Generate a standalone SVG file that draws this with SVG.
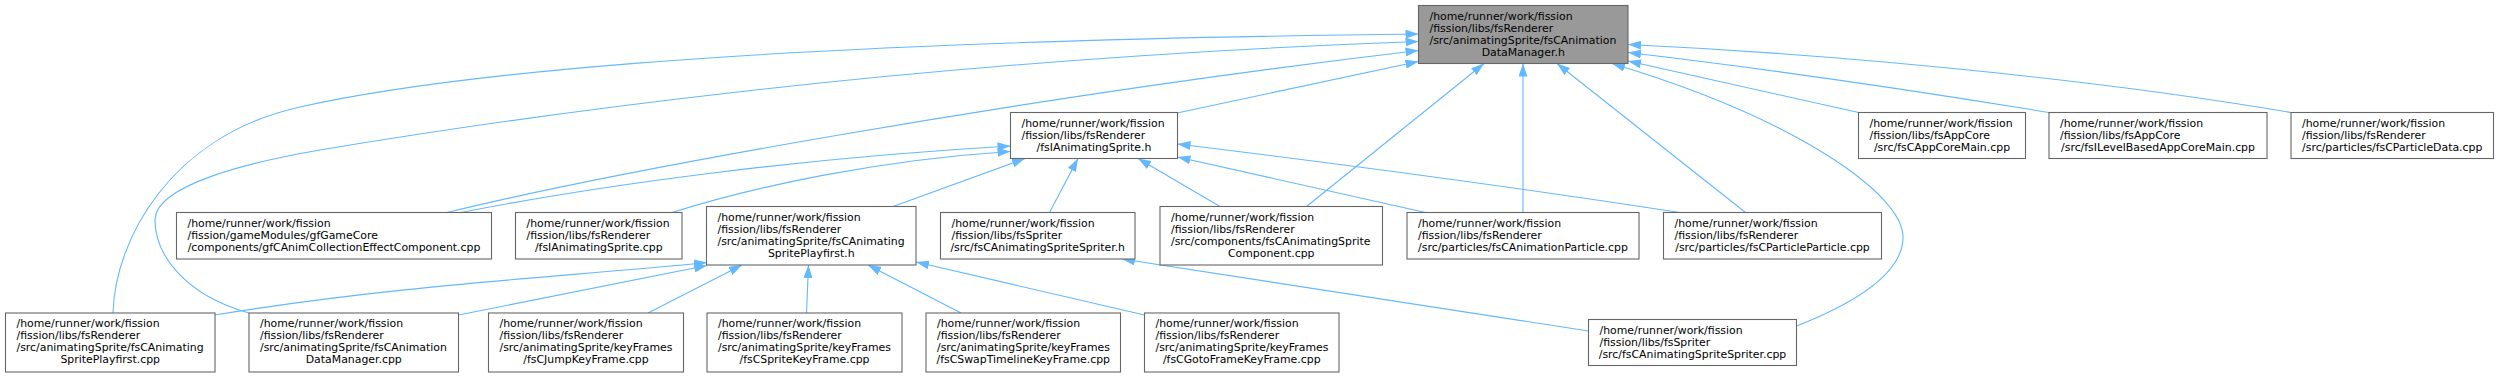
<svg xmlns="http://www.w3.org/2000/svg" width="2499" height="377" viewBox="0 0 2499 377">
<style>
.n rect{fill:#ffffff;stroke:#666666;stroke-width:1.1}
.n.root rect{fill:#999999}
.n text{font-family:"DejaVu Sans","Liberation Sans",sans-serif;font-size:10.9px;fill:#000000}
.n text.c{text-anchor:middle}
.e path{fill:none;stroke:#63b8ff;stroke-width:1.1;marker-end:url(#ah)}
</style>
<defs>
<marker id="ah" viewBox="0 0 13 9" refX="13" refY="4.5" markerWidth="13" markerHeight="9" markerUnits="userSpaceOnUse" orient="auto">
<path d="M0,0 L13,4.5 L0,9 Z" fill="#63b8ff"/>
</marker>
</defs>
<rect x="0" y="0" width="2499" height="377" fill="#ffffff"/>
<g id="edges" class="e">
<path d="M1177,113 L1418.5,61.5"/>
<path d="M447,212.5 C600,175 1000,100 1418.5,50.5"/>
<path d="M113,313 C115,240 170,136 300,107 C420,80 700,42 1418.5,34"/>
<path d="M249,313 C185,295 155,255 155,220 C155,185 250,162 320,150 C500,120 900,60 1418.5,41.5"/>
<path d="M461,212.5 C600,185 800,158 1010.5,146"/>
<path d="M672,212.5 C760,185 880,160 1010.5,151.5"/>
<path d="M893,206.5 L1025,158.5"/>
<path d="M1049.5,212.5 L1078,158.5"/>
<path d="M1220,206.5 L1138,158.5"/>
<path d="M1425.5,212.5 L1177.5,157"/>
<path d="M1680,212.5 C1500,185 1350,165 1177.5,144"/>
<path d="M1306.5,206.5 L1484,63.5"/>
<path d="M1523,212.5 L1523,63.5"/>
<path d="M1745.5,212.5 L1557,63.5"/>
<path d="M1796.5,326 C1850,305 1903,275 1903,237 C1903,195 1800,120 1612,63.5"/>
<path d="M1858.5,112.5 L1628,61"/>
<path d="M2049,112.5 C1900,88 1760,68 1628,52.5"/>
<path d="M2291,112.5 C2100,80 1850,55 1628,44.5"/>
<path d="M1588.5,331 L1122,259"/>
<path d="M214.5,315 C400,285 550,278 707,262.5"/>
<path d="M458.5,315 L707,265.5"/>
<path d="M648,313 L742,265"/>
<path d="M806.5,313 L808.5,265"/>
<path d="M961,313 L868,265"/>
<path d="M1144.5,315 L916,262"/>
</g>
<g id="n0" class="n root"><rect x="1418.5" y="5.5" width="209.5" height="58"/>
<text x="1429.5" y="19.8">/home/runner/work/fission</text><text x="1429.5" y="31.8">/fission/libs/fsRenderer</text><text x="1429.5" y="43.8">/src/animatingSprite/fsCAnimation</text><text class="c" x="1523.25" y="55.8">DataManager.h</text></g>
<g id="n1" class="n"><rect x="1010.5" y="112.5" width="167" height="46"/>
<text x="1021.5" y="127">/home/runner/work/fission</text><text x="1021.5" y="139">/fission/libs/fsRenderer</text><text class="c" x="1094" y="151">/fsIAnimatingSprite.h</text></g>
<g id="n2" class="n"><rect x="1858.5" y="112.5" width="167" height="46"/>
<text x="1869.5" y="127">/home/runner/work/fission</text><text x="1869.5" y="139">/fission/libs/fsAppCore</text><text class="c" x="1942" y="151">/src/fsCAppCoreMain.cpp</text></g>
<g id="n3" class="n"><rect x="2049" y="112.5" width="218" height="46"/>
<text x="2060" y="127">/home/runner/work/fission</text><text x="2060" y="139">/fission/libs/fsAppCore</text><text class="c" x="2158" y="151">/src/fsILevelBasedAppCoreMain.cpp</text></g>
<g id="n4" class="n"><rect x="2291" y="112.5" width="202.5" height="46"/>
<text x="2302" y="127">/home/runner/work/fission</text><text x="2302" y="139">/fission/libs/fsRenderer</text><text class="c" x="2392.25" y="151">/src/particles/fsCParticleData.cpp</text></g>
<g id="n5" class="n"><rect x="176.5" y="212.5" width="315" height="46.5"/>
<text x="187.5" y="227">/home/runner/work/fission</text><text x="187.5" y="239">/fission/gameModules/gfGameCore</text><text class="c" x="334" y="251">/components/gfCAnimCollectionEffectComponent.cpp</text></g>
<g id="n6" class="n"><rect x="515.5" y="212.5" width="166.5" height="46.5"/>
<text x="526.5" y="227">/home/runner/work/fission</text><text x="526.5" y="239">/fission/libs/fsRenderer</text><text class="c" x="598.75" y="251">/fsIAnimatingSprite.cpp</text></g>
<g id="n7" class="n"><rect x="706.5" y="206.5" width="209.5" height="58.5"/>
<text x="717.5" y="220.8">/home/runner/work/fission</text><text x="717.5" y="232.8">/fission/libs/fsRenderer</text><text x="717.5" y="244.8">/src/animatingSprite/fsCAnimating</text><text class="c" x="811.25" y="256.8">SpritePlayfirst.h</text></g>
<g id="n8" class="n"><rect x="940.5" y="212.5" width="194.5" height="46.5"/>
<text x="951.5" y="227">/home/runner/work/fission</text><text x="951.5" y="239">/fission/libs/fsSpriter</text><text class="c" x="1037.75" y="251">/src/fsCAnimatingSpriteSpriter.h</text></g>
<g id="n9" class="n"><rect x="1160" y="206.5" width="222.5" height="58.5"/>
<text x="1171" y="220.8">/home/runner/work/fission</text><text x="1171" y="232.8">/fission/libs/fsRenderer</text><text x="1171" y="244.8">/src/components/fsCAnimatingSprite</text><text class="c" x="1271.25" y="256.8">Component.cpp</text></g>
<g id="n10" class="n"><rect x="1407" y="212.5" width="232" height="46.5"/>
<text x="1418" y="227">/home/runner/work/fission</text><text x="1418" y="239">/fission/libs/fsRenderer</text><text class="c" x="1523" y="251">/src/particles/fsCAnimationParticle.cpp</text></g>
<g id="n11" class="n"><rect x="1663.5" y="212.5" width="218" height="46.5"/>
<text x="1674.5" y="227">/home/runner/work/fission</text><text x="1674.5" y="239">/fission/libs/fsRenderer</text><text class="c" x="1772.5" y="251">/src/particles/fsCParticleParticle.cpp</text></g>
<g id="n12" class="n"><rect x="5.5" y="313" width="209.5" height="59"/>
<text x="16.5" y="327.3">/home/runner/work/fission</text><text x="16.5" y="339.3">/fission/libs/fsRenderer</text><text x="16.5" y="351.3">/src/animatingSprite/fsCAnimating</text><text class="c" x="110.25" y="363.3">SpritePlayfirst.cpp</text></g>
<g id="n13" class="n"><rect x="249" y="313" width="209.5" height="59"/>
<text x="260" y="327.3">/home/runner/work/fission</text><text x="260" y="339.3">/fission/libs/fsRenderer</text><text x="260" y="351.3">/src/animatingSprite/fsCAnimation</text><text class="c" x="353.75" y="363.3">DataManager.cpp</text></g>
<g id="n14" class="n"><rect x="488.5" y="313" width="195" height="59"/>
<text x="499.5" y="327.3">/home/runner/work/fission</text><text x="499.5" y="339.3">/fission/libs/fsRenderer</text><text x="499.5" y="351.3">/src/animatingSprite/keyFrames</text><text class="c" x="586" y="363.3">/fsCJumpKeyFrame.cpp</text></g>
<g id="n15" class="n"><rect x="707" y="313" width="195" height="59"/>
<text x="718" y="327.3">/home/runner/work/fission</text><text x="718" y="339.3">/fission/libs/fsRenderer</text><text x="718" y="351.3">/src/animatingSprite/keyFrames</text><text class="c" x="804.5" y="363.3">/fsCSpriteKeyFrame.cpp</text></g>
<g id="n16" class="n"><rect x="926" y="313" width="194.5" height="59"/>
<text x="937" y="327.3">/home/runner/work/fission</text><text x="937" y="339.3">/fission/libs/fsRenderer</text><text x="937" y="351.3">/src/animatingSprite/keyFrames</text><text class="c" x="1023.25" y="363.3">/fsCSwapTimelineKeyFrame.cpp</text></g>
<g id="n17" class="n"><rect x="1144.5" y="313" width="194.5" height="59"/>
<text x="1155.5" y="327.3">/home/runner/work/fission</text><text x="1155.5" y="339.3">/fission/libs/fsRenderer</text><text x="1155.5" y="351.3">/src/animatingSprite/keyFrames</text><text class="c" x="1241.75" y="363.3">/fsCGotoFrameKeyFrame.cpp</text></g>
<g id="n18" class="n"><rect x="1588.5" y="319.5" width="208" height="46"/>
<text x="1599.5" y="334">/home/runner/work/fission</text><text x="1599.5" y="346">/fission/libs/fsSpriter</text><text class="c" x="1692.5" y="358">/src/fsCAnimatingSpriteSpriter.cpp</text></g>
</svg>
